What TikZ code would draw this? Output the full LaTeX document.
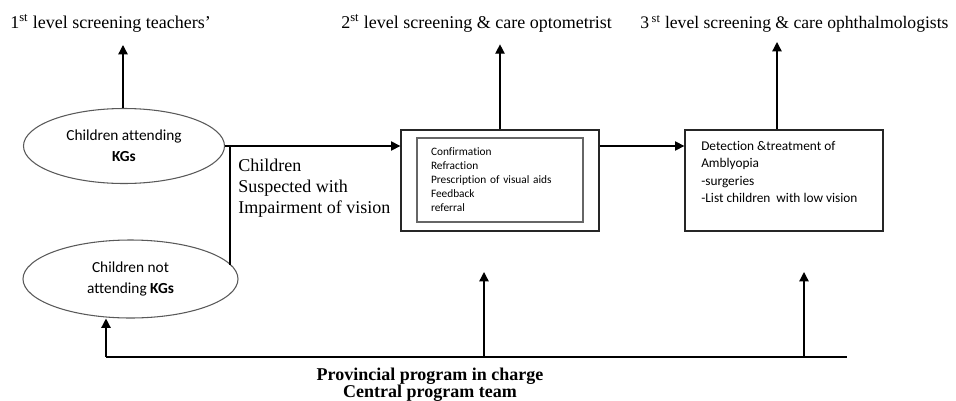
\documentclass[tikz,border=0pt]{standalone}
\usepackage{fontspec}
\setmainfont{Liberation Serif}
\newfontfamily\calibri[Ligatures={NoCommon}]{Carlito}
\usetikzlibrary{shapes.geometric,arrows.meta}

\begin{document}
\begin{tikzpicture}[
    x=0.75pt, y=-0.75pt,
    title/.style={anchor=base west, inner sep=0pt, font=\fontsize{13.5}{15}\selectfont},
    oval/.style={ellipse, draw=black!65, line width=0.8pt, align=center, inner sep=0pt,
        font=\calibri\fontsize{11.5}{16}\selectfont},
    box/.style={rectangle, draw=black!85, line width=1pt, inner sep=0pt},
    arrow/.style={-{Triangle[length=7pt,width=7pt]}, line width=1pt},
    line/.style={line width=1pt}
]
\useasboundingbox (0,0) rectangle (956,400);

% level titles
\node[title] (t1) at (10,28) {1\textsuperscript{st} level screening teachers'};
\node[title] (t2) at (341,28) {2\textsuperscript{st} level screening \& care optometrist};
\node[title, font=\fontsize{13.2}{15}\selectfont] (t3) at (640,28)
    {3\hspace{2pt}\textsuperscript{st} level screening \& care ophthalmologists};

% children
\node[oval, minimum width=150.75pt, minimum height=56.25pt] (kg) at (124,146)
    {Children attending\\\textbf{KGs}};
\node[oval, minimum width=161.25pt, minimum height=58.5pt] (nokg) at (130.5,279)
    {Children not\\attending \textbf{KGs}};

\node[anchor=north west, inner sep=0pt, align=left, font=\fontsize{13.5}{15.5}\selectfont]
    (susp) at (238,159) {Children\\Suspected with\\Impairment of vision};

% optometrist box
\node[box, minimum width=148.5pt, minimum height=75.75pt] (conf) at (500,180.5) {};
\node[box, draw=black!60, line width=0.8pt, minimum width=124.5pt, minimum height=63pt,
    text width=103.5pt, inner xsep=10.5pt, align=left,
    font=\calibri\fontsize{8.5}{10.5}\selectfont] (confin) at (500,180)
    {Confirmation\\Refraction\\Prescription of visual aids\\Feedback\\referral};

% ophthalmologist box
\node[box, minimum width=148.5pt, minimum height=75.75pt] (detect) at (784,180.5) {};
\node[anchor=north west, inner sep=0pt, align=left, font=\calibri\fontsize{10}{13}\selectfont]
    (detecttxt) at (701,141)
    {Detection \&treatment of\\Amblyopia\\-surgeries\\-List children~ with low vision};

% program team
\node[anchor=north, inner sep=0pt, align=center, font=\bfseries\fontsize{13.5}{12.75}\selectfont]
    (prov) at (430,368) {Provincial program in charge\\Central program team};

\coordinate (k1tip) at (123,45);
\coordinate (k3tip) at (777,42);
\coordinate (split) at (230,146);
\coordinate (b1) at (106,357);
\coordinate (b2) at (484,357);
\coordinate (b3) at (804,357);
\coordinate (bend) at (847,357);
\coordinate (p2) at (484,272);
\coordinate (p3) at (804,272);

\draw[arrow] (k1tip |- kg.north) -- (k1tip);
\draw[arrow] (conf.north) -- ++(0,-85);
\draw[arrow] (k3tip |- detect.north) -- (k3tip);

\draw[arrow] (kg.east) -- (kg.east -| conf.west);
\draw[line] (split) -- (split |- nokg.8);
\draw[arrow] (kg.east -| conf.east) -- (kg.east -| detect.west);

\draw[line] (b1) -- (bend);
\draw[arrow] (b1) -- (b1 |- nokg.south);
\draw[arrow] (b2) -- (p2);
\draw[arrow] (b3) -- (p3);

\end{tikzpicture}
\end{document}
